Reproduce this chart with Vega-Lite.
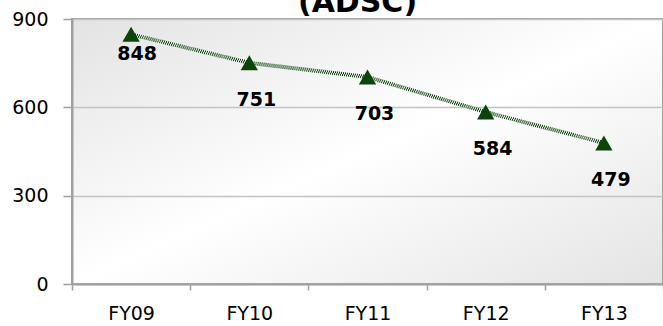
{
  "$schema": "https://vega.github.io/schema/vega-lite/v6.json",
  "width": 591,
  "height": 265,
  "autosize": {"type": "none"},
  "padding": {"left": 72, "top": 19, "right": 0, "bottom": 42},
  "background": "white",
  "title": {
    "text": "(ADSC)",
    "font": "DejaVu Sans",
    "fontWeight": "bold",
    "fontSize": 30,
    "color": "#000000",
    "anchor": "middle",
    "frame": "group",
    "baseline": "alphabetic",
    "offset": -32,
    "dx": -10
  },
  "config": {
    "view": {
      "stroke": "#a0a0a0",
      "strokeWidth": 2,
      "fill": {
        "gradient": "linear",
        "x1": 0, "y1": 0, "x2": 1, "y2": 1,
        "stops": [
          {"offset": 0, "color": "#e3e3e3"},
          {"offset": 0.5, "color": "#ffffff"},
          {"offset": 1, "color": "#e4e4e4"}
        ]
      }
    },
    "axis": {
      "labelFont": "DejaVu Sans",
      "labelFontSize": 19,
      "labelColor": "#000000",
      "domainColor": "#a0a0a0",
      "domainWidth": 2,
      "tickColor": "#a0a0a0",
      "tickWidth": 1.5,
      "title": null
    }
  },
  "data": {
    "values": [
      {"year": "FY09", "value": 848},
      {"year": "FY10", "value": 751},
      {"year": "FY11", "value": 703},
      {"year": "FY12", "value": 584},
      {"year": "FY13", "value": 479}
    ]
  },
  "encoding": {
    "x": {
      "field": "year",
      "type": "ordinal",
      "scale": {"type": "band", "paddingInner": 0, "paddingOuter": 0},
      "axis": {
        "labelAngle": 0,
        "tickBand": "extent",
        "tickSize": 6,
        "labelPadding": 14,
        "grid": false
      }
    },
    "y": {
      "field": "value",
      "type": "quantitative",
      "scale": {"domain": [0, 900], "nice": false},
      "axis": {
        "values": [0, 300, 600, 900],
        "tickSize": 9,
        "labelPadding": 15,
        "grid": true,
        "gridColor": "#c4c4c4",
        "gridWidth": 1.5
      }
    }
  },
  "layer": [
    {
      "mark": {"type": "line", "stroke": "#ffffff", "strokeWidth": 4}
    },
    {
      "mark": {"type": "line", "stroke": "#003a00", "strokeWidth": 2, "strokeDash": [1, 1], "yOffset": -1}
    },
    {
      "mark": {"type": "line", "stroke": "#003a00", "strokeWidth": 2, "strokeDash": [1, 1], "strokeDashOffset": 1, "yOffset": 1}
    },
    {
      "mark": {"type": "point", "shape": "triangle-up", "size": 300, "filled": true, "fill": "#0a450a", "opacity": 1}
    },
    {
      "transform": [{"filter": "datum.year === 'FY09'"}],
      "mark": {"type": "text", "font": "DejaVu Sans", "fontWeight": "bold", "fontSize": 19, "color": "#000000", "dx": 6, "dy": 20, "baseline": "middle"},
      "encoding": {"text": {"field": "value", "type": "quantitative"}}
    },
    {
      "transform": [{"filter": "datum.year !== 'FY09'"}],
      "mark": {"type": "text", "font": "DejaVu Sans", "fontWeight": "bold", "fontSize": 19, "color": "#000000", "dx": 7, "dy": 37, "baseline": "middle"},
      "encoding": {"text": {"field": "value", "type": "quantitative"}}
    }
  ]
}
